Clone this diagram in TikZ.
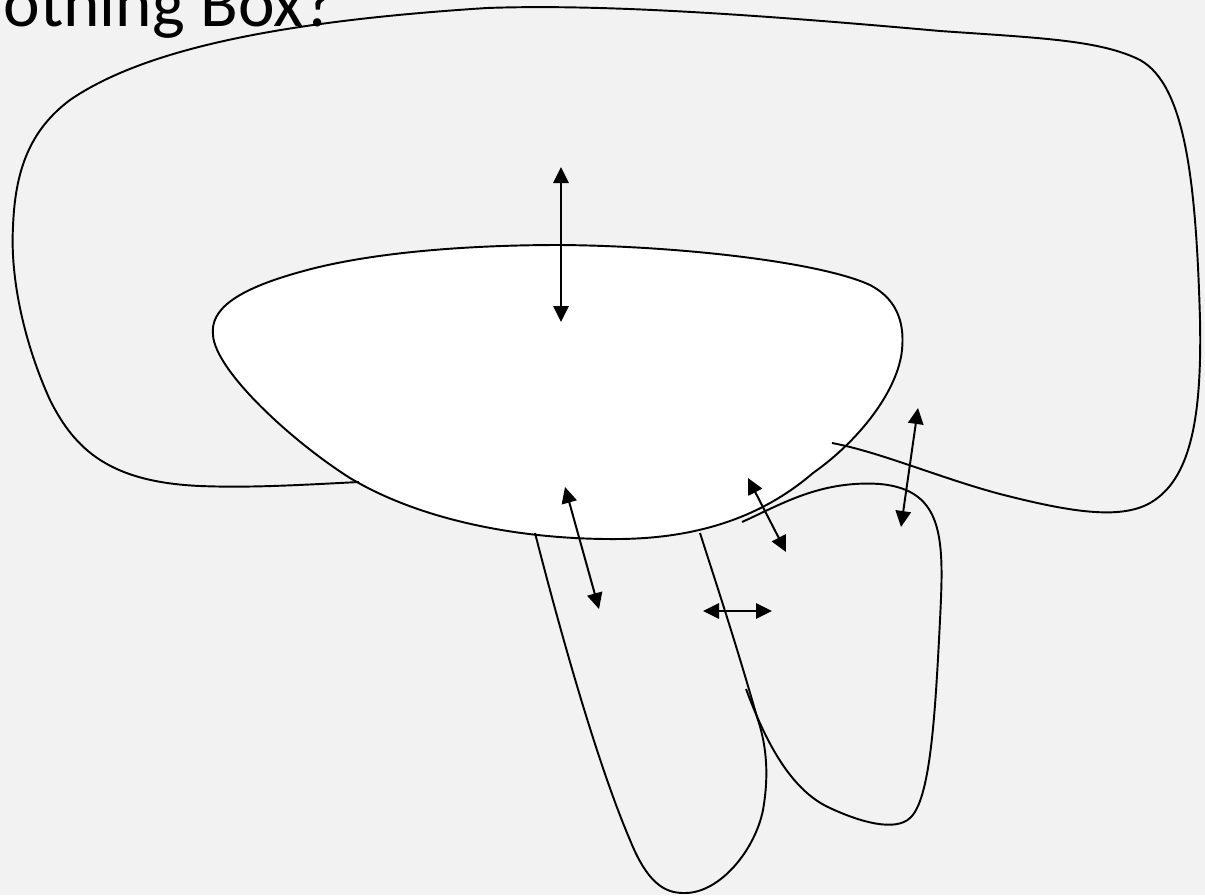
\documentclass[tikz,border=0pt]{standalone}
\usepackage{fontspec}
\setmainfont{Carlito}
\usetikzlibrary{arrows.meta}
\definecolor{bg}{HTML}{F2F2F2}
\tikzset{
  outline/.style={draw=black, line width=1.45pt, line join=round},
  dblarrow/.style={draw=black, line width=1.5pt, {Triangle[length=12pt,width=11.5pt]}-{Triangle[length=12pt,width=11.5pt]}},
  titletext/.style={font=\fontsize{52}{60}\selectfont, inner sep=0pt, text=black}
}
\begin{document}
\begin{tikzpicture}[x=0.75pt,y=-0.75pt]
\useasboundingbox (0,0) rectangle (1205,895);
\fill[bg] (0,0) rectangle (1205,895);

% title
\node[titletext, anchor=base east] (title) at (336,27) {othing Box?};

% inner white shape
\draw[outline, fill=white]
  (213,335) .. controls (210,310) and (235,290) .. (300,272)
  .. controls (370,252) and (470,245) .. (560,245)
  .. controls (680,246) and (820,262) .. (870,285)
  .. controls (895,298) and (905,320) .. (902,350)
  .. controls (898,390) and (860,440) .. (813,473)
  .. controls (770,510) and (710,538) .. (620,539)
  .. controls (520,540) and (420,520) .. (350,478)
  .. controls (290,440) and (215,370) .. cycle;

% outer blob (open)
\draw[outline]
  (359,482) .. controls (300,485) and (250,488) .. (200,486)
  .. controls (110,482) and (75,450) .. (50,400)
  .. controls (25,345) and (10,280) .. (13,227)
  .. controls (15,170) and (30,130) .. (70,100)
  .. controls (150,45) and (300,20) .. (487,8)
  .. controls (600,4) and (750,14) .. (940,31)
  .. controls (1040,38) and (1100,40) .. (1140,60)
  .. controls (1185,85) and (1196,180) .. (1200,320)
  .. controls (1202,420) and (1190,480) .. (1150,503)
  .. controls (1120,520) and (1070,512) .. (1000,494)
  .. controls (940,478) and (880,452) .. (832,443);

% finger 1
\draw[outline]
  (535,533) .. controls (565,650) and (600,770) .. (630,840)
  .. controls (650,890) and (670,893) .. (685,893)
  .. controls (720,893) and (755,850) .. (763,810)
  .. controls (770,770) and (765,740) .. (757,717)
  .. controls (735,640) and (715,580) .. (700,533);

% finger 2
\draw[outline]
  (746,689) .. controls (765,740) and (790,790) .. (830,808)
  .. controls (860,822) and (895,832) .. (910,818)
  .. controls (930,800) and (935,720) .. (940,620)
  .. controls (944,540) and (945,490) .. (880,484)
  .. controls (820,480) and (780,505) .. (742,522);

% arrow end points
\coordinate (a1s) at (561,167); \coordinate (a1e) at (561,322);
\coordinate (a2s) at (565,487); \coordinate (a2e) at (599,609);
\coordinate (a3s) at (748,478); \coordinate (a3e) at (786,552);
\coordinate (a4s) at (703,611); \coordinate (a4e) at (772,611);
\coordinate (a5s) at (918,408); \coordinate (a5e) at (901,527);

\draw[dblarrow] (a1s) -- (a1e);
\draw[dblarrow] (a2s) -- (a2e);
\draw[dblarrow] (a3s) -- (a3e);
\draw[dblarrow] (a4s) -- (a4e);
\draw[dblarrow] (a5s) -- (a5e);
\end{tikzpicture}
\end{document}
